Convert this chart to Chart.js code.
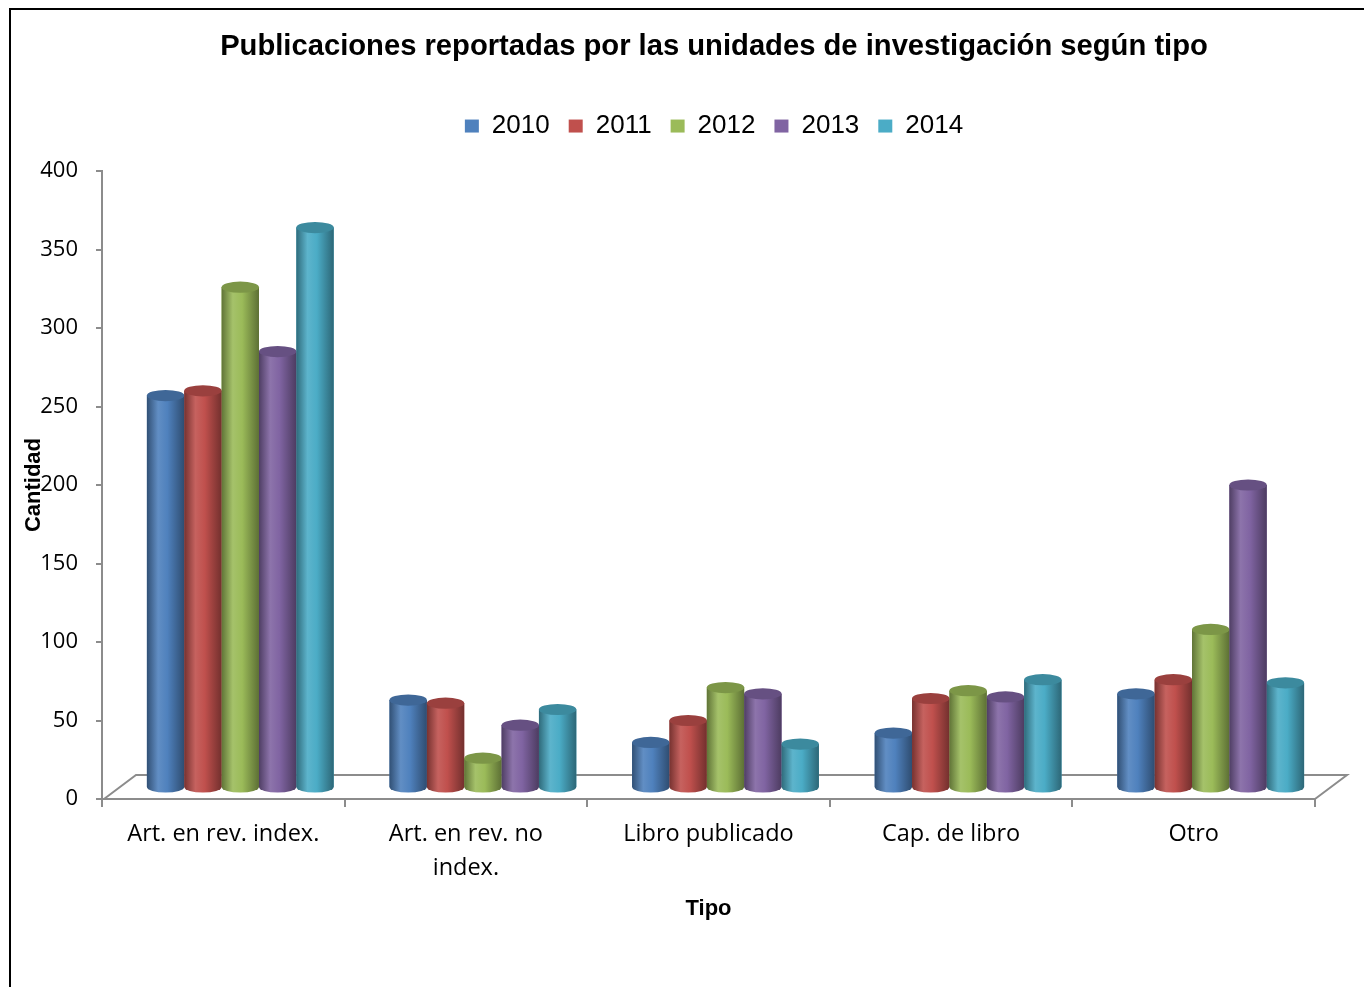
<!DOCTYPE html>
<html>
<head>
<meta charset="utf-8">
<script src="https://cdn.jsdelivr.net/npm/chart.js@4.4.1/dist/chart.umd.min.js"></script>
<style>
html, body { margin:0; padding:0; background:#fff; }
#wrap { position:relative; width:1364px; height:987px; overflow:hidden; }
#marco { position:absolute; left:9px; top:8px; width:1400px; height:1000px; border-top:2px solid #000; border-left:2px solid #000; pointer-events:none; }
</style>
</head>
<body>
<div id="wrap">
  <canvas id="grafico" width="1364" height="987"></canvas>
  <div id="marco"></div>
</div>
<script>
var categorias = ['Art. en rev. index.', ['Art. en rev. no', 'index.'], 'Libro publicado', 'Cap. de libro', 'Otro'];
var anios = ['2010', '2011', '2012', '2013', '2014'];
var datos2010 = [250, 56, 29, 35, 60];
var datos2011 = [253, 54, 43, 57, 69];
var datos2012 = [319, 19, 64, 62, 101];
var datos2013 = [278, 40, 60, 58, 193];
var datos2014 = [357, 50, 28, 69, 67];
var ticksY = [0, 50, 100, 150, 200, 250, 300, 350, 400];

var colores = ['#4F81BD', '#C0504D', '#9BBB59', '#8064A2', '#4BACC6'];
var series = [datos2010, datos2011, datos2012, datos2013, datos2014];

// aclara (f>1) u oscurece (f<1) un color hex
function tono(hex, f) {
    var n = parseInt(hex.slice(1), 16);
    var rgb = [(n >> 16) & 255, (n >> 8) & 255, n & 255].map(function(v) {
        v = f < 1 ? v * f : v + (255 - v) * (f - 1);
        return Math.round(Math.max(0, Math.min(255, v)));
    });
    return 'rgb(' + rgb.join(',') + ')';
}

var desplX = 17, desplY = -11, fondoX = 32, fondoY = -24;

// piso en perspectiva y cilindros sobre las barras
var cilindros = {
    id: 'cilindros',
    beforeDatasetsDraw: function(chart) {
        var ctx = chart.ctx, a = chart.chartArea, y0 = chart.scales.y.getPixelForValue(0);
        ctx.save();
        ctx.strokeStyle = '#8c8c8c';
        ctx.lineWidth = 2;
        ctx.beginPath();
        ctx.moveTo(a.left + 2, y0);
        ctx.lineTo(a.left + 2 + fondoX, y0 + fondoY);
        ctx.lineTo(a.right + fondoX, y0 + fondoY);
        ctx.lineTo(a.right, y0);
        ctx.stroke();
        ctx.restore();
        ctx.save();
        ctx.translate(desplX, desplY);
    },
    afterDatasetsDraw: function(chart) {
        var ctx = chart.ctx;
        chart.data.datasets.forEach(function(ds, i) {
            var col = colores[i];
            chart.getDatasetMeta(i).data.forEach(function(el) {
                var p = el.getProps(['x', 'y', 'base', 'width'], true);
                var w = p.width, l = p.x - w / 2, r = p.x + w / 2, ry = w * 0.15;
                var g = ctx.createLinearGradient(l, 0, r, 0);
                g.addColorStop(0, tono(col, 0.62));
                g.addColorStop(0.3, tono(col, 1.1));
                g.addColorStop(0.55, col);
                g.addColorStop(1, tono(col, 0.6));
                ctx.fillStyle = g;
                ctx.beginPath();
                ctx.moveTo(l, p.y);
                ctx.lineTo(l, p.base);
                ctx.ellipse(p.x, p.base, w / 2, ry, 0, Math.PI, 0, true);
                ctx.lineTo(r, p.y);
                ctx.closePath();
                ctx.fill();
                ctx.fillStyle = tono(col, 0.8);
                ctx.beginPath();
                ctx.ellipse(p.x, p.y, w / 2, ry, 0, 0, Math.PI * 2);
                ctx.fill();
            });
        });
        ctx.restore();
    }
};

// espacio extra bajo la leyenda y título/leyenda centrados sobre el área del gráfico
var ajusteCabecera = {
    id: 'ajusteCabecera',
    beforeInit: function(chart) {
        var fitOrig = chart.legend.fit;
        chart.legend.fit = function() { fitOrig.call(this); this.height += 22; };
    },
    afterLayout: function(chart) {
        var a = chart.chartArea;
        var izq = 2 * 714 - a.right;
        chart.titleBlock.left = izq;
        chart.titleBlock.right = a.right;
        chart.legend.left = izq;
        chart.legend.right = a.right;
    }
};

new Chart(document.getElementById('grafico'), {
    type: 'bar',
    data: {
        labels: categorias,
        datasets: anios.map(function(a, i) {
            return { label: a, data: series[i], backgroundColor: colores[i], borderWidth: 0,
                     categoryPercentage: 0.77, barPercentage: 1 };
        })
    },
    options: {
        responsive: false,
        devicePixelRatio: 1,
        animation: false,
        layout: { padding: { left: 12, right: 49, top: 0, bottom: 63 } },
        plugins: {
            title: {
                display: true,
                text: 'Publicaciones reportadas por las unidades de investigación según tipo',
                color: '#000',
                font: { family: 'Liberation Sans', size: 29.2, weight: 'bold' },
                padding: { top: 29, bottom: 30 }
            },
            legend: {
                position: 'top',
                labels: { color: '#000', font: { family: 'Liberation Sans', size: 26 }, boxWidth: 14, boxHeight: 13, padding: 19 }
            },
            tooltip: { enabled: false }
        },
        scales: {
            x: {
                grid: { display: true, drawOnChartArea: false, tickLength: 8, color: '#8c8c8c', lineWidth: 2 },
                border: { display: true, color: '#8c8c8c', width: 2 },
                ticks: { color: '#000', font: { family: 'Open Sans', size: 23.5, lineHeight: 1.42 }, padding: 11, autoSkip: false, maxRotation: 0 },
                title: { display: true, text: 'Tipo', color: '#000', font: { family: 'Liberation Sans', size: 22, weight: 'bold' }, padding: { top: 4, bottom: 2 } },
                afterFit: function(s) { s.height = 125; }
            },
            y: {
                min: 0,
                max: 400,
                afterBuildTicks: function(s) { s.ticks = ticksY.map(function(v) { return { value: v }; }); },
                grid: { display: true, drawOnChartArea: false, tickLength: 6, color: '#8c8c8c', lineWidth: 2 },
                border: { display: true, color: '#8c8c8c', width: 2 },
                ticks: { color: '#000', font: { family: 'Open Sans', size: 22 }, padding: 18 },
                title: { display: true, text: 'Cantidad', color: '#000', font: { family: 'Liberation Sans', size: 22, weight: 'bold' }, padding: { top: 9, bottom: 0 } },
                afterFit: function(s) { s.width = 90; }
            }
        }
    },
    plugins: [ajusteCabecera, cilindros]
});
</script>
</body>
</html>
